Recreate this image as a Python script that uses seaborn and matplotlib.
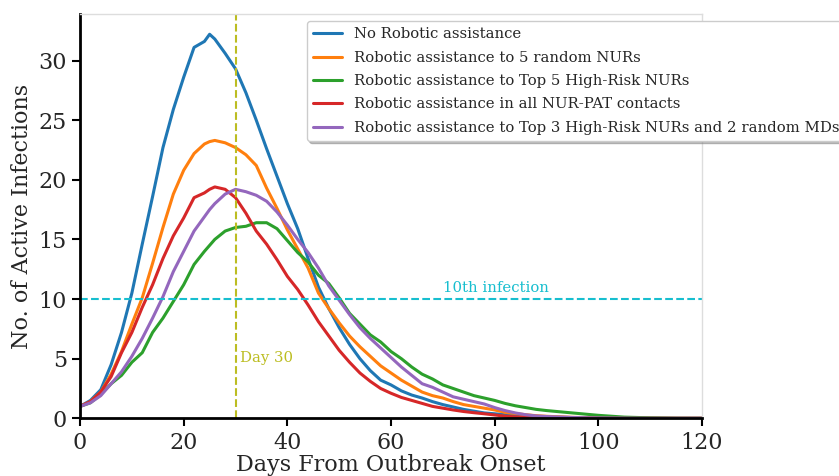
import numpy as np
import pandas as pd
import matplotlib
matplotlib.use("Agg")
import matplotlib.pyplot as plt
import seaborn as sns

days = [0, 2, 4, 6, 8, 10, 12, 14, 16, 18, 20, 22, 24, 25, 26, 28, 30, 32, 34, 36, 38,
        40, 42, 44, 46, 48, 50, 52, 54, 56, 58, 60, 62, 64, 66, 68, 70, 72, 74, 76, 78,
        80, 82, 84, 86, 88, 90, 95, 100, 105, 110, 115, 120]

no_robot = [1.0, 1.5, 2.4, 4.5, 7.2, 10.5, 14.6, 18.6, 22.7, 25.9, 28.6, 31.1, 31.6, 32.2, 31.8, 30.6, 29.3, 27.3, 25.0, 22.6, 20.3,
            18.0, 15.9, 13.4, 11.0, 9.2, 7.6, 6.2, 5.0, 4.0, 3.2, 2.8, 2.3, 1.95, 1.7, 1.4, 1.15, 0.95, 0.75, 0.6, 0.45,
            0.38, 0.3, 0.25, 0.2, 0.15, 0.12, 0.06, 0.03, 0.02, 0.01, 0.0, 0.0]
random5 = [1.0, 1.4, 2.2, 3.7, 5.6, 7.9, 10.1, 13.0, 16.0, 18.8, 20.8, 22.2, 23.0, 23.2, 23.3, 23.1, 22.7, 22.1, 21.2, 19.3, 17.6,
           15.8, 14.2, 12.6, 10.5, 9.2, 8.0, 6.9, 6.0, 5.2, 4.4, 3.8, 3.2, 2.7, 2.2, 1.9, 1.7, 1.4, 1.15, 1.0, 0.85,
           0.7, 0.5, 0.4, 0.3, 0.22, 0.17, 0.08, 0.04, 0.02, 0.01, 0.0, 0.0]
top5 = [1.0, 1.3, 2.0, 2.9, 3.6, 4.7, 5.5, 7.2, 8.4, 9.8, 11.2, 12.9, 14.0, 14.5, 15.0, 15.7, 16.0, 16.1, 16.4, 16.4, 15.9,
        14.9, 13.9, 13.1, 12.0, 11.3, 10.1, 8.8, 7.9, 7.0, 6.4, 5.6, 5.0, 4.3, 3.7, 3.3, 2.8, 2.5, 2.2, 1.9, 1.7,
        1.5, 1.25, 1.05, 0.9, 0.75, 0.65, 0.45, 0.25, 0.1, 0.04, 0.01, 0.0]
all_contacts = [1.0, 1.4, 2.2, 3.5, 5.5, 7.2, 9.3, 11.2, 13.4, 15.3, 16.8, 18.5, 18.9, 19.2, 19.4, 19.2, 18.5, 17.2, 15.7, 14.6, 13.3,
                11.9, 10.8, 9.5, 8.1, 6.9, 5.7, 4.7, 3.8, 3.1, 2.5, 2.1, 1.75, 1.5, 1.25, 1.0, 0.85, 0.7, 0.57, 0.47, 0.38,
                0.28, 0.18, 0.12, 0.08, 0.05, 0.04, 0.02, 0.01, 0.0, 0.0, 0.0, 0.0]
top3_md2 = [1.0, 1.3, 1.9, 2.9, 3.9, 5.2, 6.7, 8.4, 10.2, 12.3, 14.0, 15.7, 16.9, 17.5, 18.0, 18.8, 19.2, 19.0, 18.7, 18.2, 17.3,
            16.2, 15.0, 13.9, 12.6, 11.1, 9.9, 8.7, 7.6, 6.7, 5.9, 5.1, 4.3, 3.6, 2.9, 2.6, 2.2, 1.8, 1.6, 1.4, 1.2,
            0.9, 0.65, 0.45, 0.3, 0.2, 0.15, 0.07, 0.03, 0.01, 0.0, 0.0, 0.0]

labels = ["No Robotic assistance",
          "Robotic assistance to 5 random NURs",
          "Robotic assistance to Top 5 High-Risk NURs",
          "Robotic assistance in all NUR-PAT contacts",
          "Robotic assistance to Top 3 High-Risk NURs and 2 random MDs"]
series = [no_robot, random5, top5, all_contacts, top3_md2]

df = pd.concat([pd.DataFrame({"day": days, "value": s, "scenario": lab})
                for s, lab in zip(series, labels)], ignore_index=True)

sns.set_style("ticks")
plt.rcParams["font.family"] = ["DejaVu Serif"]

fig = plt.figure(figsize=(8.39, 4.76), dpi=100)
ax = fig.add_axes([0.0954, 0.1212, 0.7413, 0.8494])

palette = ["#1f77b4", "#ff7f0e", "#2ca02c", "#d62728", "#9467bd"]
sns.lineplot(data=df, x="day", y="value", hue="scenario", hue_order=labels,
             palette=palette, linewidth=2.2, ax=ax, legend=False)

ax.axhline(10, color="#17becf", linestyle="--", linewidth=1.5)
ax.axvline(30, color="#bcbd22", linestyle="--", linewidth=1.5)
ax.text(70, 10.3, "10th infection", color="#17becf", fontsize=10.7, va="bottom")
ax.text(30.8, 4.5, "Day 30", color="#bcbd22", fontsize=10.7, va="bottom")

ax.set_xlim(0, 120)
ax.set_ylim(0, 33.9)
ax.set_xticks([0, 20, 40, 60, 80, 100, 120])
ax.set_yticks([0, 5, 10, 15, 20, 25, 30])
ax.tick_params(labelsize=16, width=1.5, length=6, color="black")
ax.set_xlabel("Days From Outbreak Onset", fontsize=16, labelpad=0)
ax.set_ylabel("No. of Active Infections", fontsize=16)

for side in ["left", "bottom"]:
    ax.spines[side].set_color("black")
    ax.spines[side].set_linewidth(2)
for side in ["top", "right"]:
    ax.spines[side].set_color("#dddddd")
    ax.spines[side].set_linewidth(1)

handles = [plt.Line2D([], [], color=c, linewidth=2.2) for c in palette]
leg = ax.legend(handles, labels, loc="upper left", bbox_to_anchor=(0.3655, 0.955),
                bbox_transform=fig.transFigure, fontsize=10.7, labelspacing=0.63,
                shadow={"color": "gray", "alpha": 0.5},
                frameon=True, fancybox=True, borderaxespad=0)

fig.savefig("out.png", dpi=100)
